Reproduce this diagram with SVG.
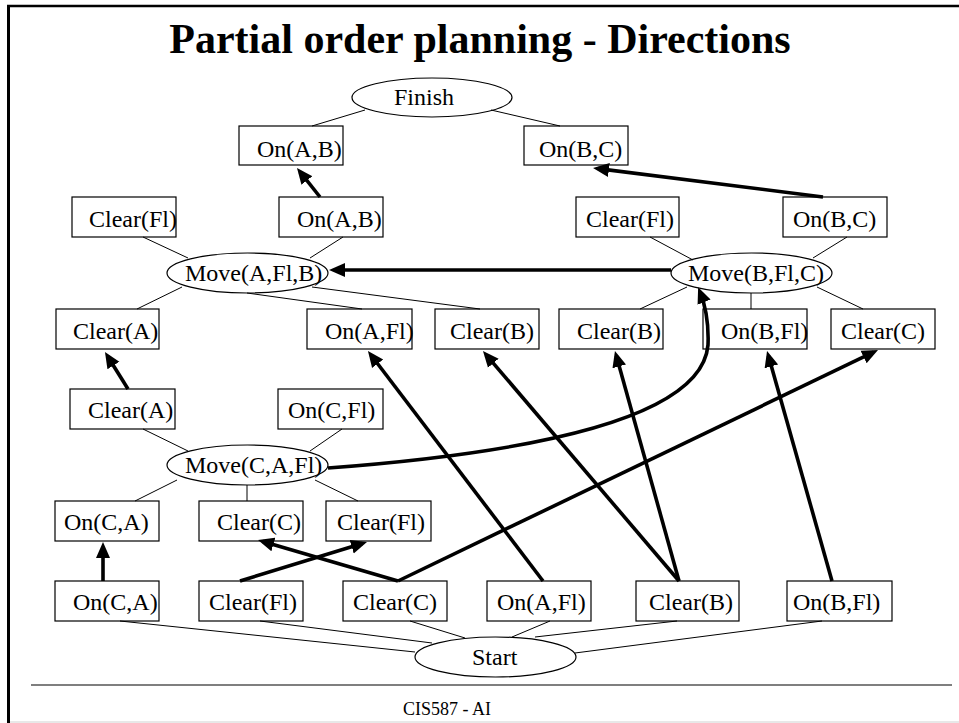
<svg xmlns="http://www.w3.org/2000/svg" width="959" height="723" viewBox="0 0 959 723">
<style>
  .box{fill:#fff;stroke:#000;stroke-width:1.2}
  .ell{fill:#fff;stroke:#000;stroke-width:1.2}
  .t{font-family:"Liberation Serif","Times New Roman",serif;font-size:24px;fill:#000}
  .thin{stroke:#000;stroke-width:1;fill:none}
  .arr{stroke:#000;stroke-width:3.6;fill:none;marker-end:url(#ah)}
</style>
<defs>
  <marker id="ah" markerUnits="userSpaceOnUse" viewBox="0 -8 18 16" markerWidth="18" markerHeight="16" refX="11" refY="0" orient="auto">
    <path d="M0,-7 L16,0 L0,7 Z" fill="#000"/>
  </marker>
</defs>
<rect width="959" height="723" fill="#fff"/>
<!-- frame -->
<line x1="7" y1="6" x2="959" y2="6" stroke="#000" stroke-width="2.5"/>
<line x1="8.5" y1="5" x2="8.5" y2="723" stroke="#000" stroke-width="3"/>
<line x1="10" y1="722" x2="959" y2="722" stroke="#e0e0e0" stroke-width="1.5"/>
<line x1="31" y1="685" x2="952" y2="685" stroke="#000" stroke-width="1.2"/>
<text x="480" y="53" text-anchor="middle" font-family="Liberation Serif, Times New Roman, serif" font-weight="bold" font-size="42">Partial order planning - Directions</text>
<text x="447" y="715" text-anchor="middle" font-family="Liberation Serif, Times New Roman, serif" font-size="18">CIS587 - AI</text>

<g id="finish"><ellipse class="ell" cx="432" cy="97.5" rx="80" ry="19.5"/><text class="t" x="394" y="105">Finish</text></g>
<g id="onAB_goal"><rect class="box" x="239" y="126" width="104" height="39"/><text class="t" x="257" y="157">On(A,B)</text></g>
<g id="onBC_goal"><rect class="box" x="524" y="126" width="104" height="39"/><text class="t" x="539" y="157">On(B,C)</text></g>

<g id="clearFl_mAB"><rect class="box" x="72" y="197" width="104" height="40"/><text class="t" x="89" y="227">Clear(Fl)</text></g>
<g id="onAB_mAB"><rect class="box" x="279" y="197" width="104" height="40"/><text class="t" x="297" y="227">On(A,B)</text></g>
<g id="clearFl_mBC"><rect class="box" x="576" y="197" width="103" height="40"/><text class="t" x="586" y="227">Clear(Fl)</text></g>
<g id="onBC_mBC"><rect class="box" x="783" y="197" width="104" height="40"/><text class="t" x="793" y="227">On(B,C)</text></g>

<g id="moveAFlB"><ellipse class="ell" cx="247.5" cy="273" rx="80.5" ry="20"/><text class="t" x="185" y="281">Move(A,Fl,B)</text></g>
<g id="moveBFlC"><ellipse class="ell" cx="751.5" cy="273" rx="80.5" ry="20"/><text class="t" x="688" y="281">Move(B,Fl,C)</text></g>

<g id="clearA_pre"><rect class="box" x="56" y="309" width="103" height="40"/><text class="t" x="73" y="339">Clear(A)</text></g>
<g id="onAFl_pre"><rect class="box" x="307" y="309" width="105" height="40"/><text class="t" x="325" y="339">On(A,Fl)</text></g>
<g id="clearB_preA"><rect class="box" x="435" y="309" width="104" height="40"/><text class="t" x="450" y="339">Clear(B)</text></g>
<g id="clearB_preB"><rect class="box" x="559" y="309" width="104" height="40"/><text class="t" x="577" y="339">Clear(B)</text></g>
<g id="onBFl_pre"><rect class="box" x="703" y="309" width="104" height="40"/><text class="t" x="721" y="339">On(B,Fl)</text></g>
<g id="clearC_pre"><rect class="box" x="831" y="309" width="104" height="40"/><text class="t" x="841" y="339">Clear(C)</text></g>

<g id="clearA_eff"><rect class="box" x="70" y="389" width="105" height="40"/><text class="t" x="88" y="418">Clear(A)</text></g>
<g id="onCFl_eff"><rect class="box" x="278" y="389" width="105" height="40"/><text class="t" x="288" y="418">On(C,Fl)</text></g>

<g id="moveCAFl"><ellipse class="ell" cx="247.5" cy="465" rx="80.5" ry="20"/><text class="t" x="185" y="473">Move(C,A,Fl)</text></g>

<g id="onCA_pre"><rect class="box" x="55" y="501" width="104" height="40"/><text class="t" x="64" y="530">On(C,A)</text></g>
<g id="clearC_preC"><rect class="box" x="199" y="501" width="104" height="40"/><text class="t" x="217" y="530">Clear(C)</text></g>
<g id="clearFl_preC"><rect class="box" x="326" y="501" width="105" height="40"/><text class="t" x="337" y="530">Clear(Fl)</text></g>

<g id="onCA_start"><rect class="box" x="55" y="581" width="104" height="40"/><text class="t" x="73" y="610">On(C,A)</text></g>
<g id="clearFl_start"><rect class="box" x="199" y="581" width="104" height="40"/><text class="t" x="209" y="610">Clear(Fl)</text></g>
<g id="clearC_start"><rect class="box" x="343" y="581" width="104" height="40"/><text class="t" x="353" y="610">Clear(C)</text></g>
<g id="onAFl_start"><rect class="box" x="487" y="581" width="104" height="40"/><text class="t" x="497" y="610">On(A,Fl)</text></g>
<g id="clearB_start"><rect class="box" x="636" y="581" width="103" height="40"/><text class="t" x="649" y="610">Clear(B)</text></g>
<g id="onBFl_start"><rect class="box" x="787" y="581" width="105" height="40"/><text class="t" x="793" y="610">On(B,Fl)</text></g>

<g id="start"><ellipse class="ell" cx="495.5" cy="657" rx="80.5" ry="20"/><text class="t" x="472" y="665">Start</text></g>

<g id="connectors">
  <!-- thin structural lines -->
  <line class="thin" x1="312" y1="126" x2="365" y2="110"/>
  <line class="thin" x1="491" y1="110" x2="560" y2="126"/>
  <line class="thin" x1="143" y1="237" x2="188" y2="258"/>
  <line class="thin" x1="343" y1="237" x2="310" y2="258"/>
  <line class="thin" x1="182" y1="287" x2="137" y2="309"/>
  <line class="thin" x1="247" y1="293" x2="362" y2="309"/>
  <line class="thin" x1="312" y1="287" x2="480" y2="309"/>
  <line class="thin" x1="650" y1="237" x2="693" y2="260"/>
  <line class="thin" x1="847" y1="237" x2="813" y2="258"/>
  <line class="thin" x1="687" y1="287" x2="640" y2="309"/>
  <line class="thin" x1="751" y1="293" x2="751" y2="309"/>
  <line class="thin" x1="817" y1="287" x2="863" y2="309"/>
  <line class="thin" x1="143" y1="429" x2="188" y2="451"/>
  <line class="thin" x1="342" y1="429" x2="310" y2="451"/>
  <line class="thin" x1="177" y1="480" x2="135" y2="501"/>
  <line class="thin" x1="247" y1="485" x2="247" y2="501"/>
  <line class="thin" x1="315" y1="480" x2="358" y2="501"/>
  <line class="thin" x1="120" y1="621" x2="415" y2="652"/>
  <line class="thin" x1="260" y1="621" x2="432" y2="643"/>
  <line class="thin" x1="410" y1="621" x2="465" y2="638"/>
  <line class="thin" x1="550" y1="621" x2="512" y2="637"/>
  <line class="thin" x1="677" y1="621" x2="535" y2="637"/>
  <line class="thin" x1="822" y1="621" x2="575" y2="653"/>
  <!-- causal / ordering arrows -->
  <line class="arr" x1="320" y1="197" x2="300.1" y2="171.9"/>
  <line class="arr" x1="823" y1="197" x2="598" y2="168.6"/>
  <line class="arr" x1="671" y1="270" x2="334" y2="270"/>
  <path class="arr" d="M328,468 Q700,440 708,345 C709,320 704,302 700,292"/>
  <line class="arr" x1="128" y1="389" x2="107.6" y2="356.2"/>
  <line class="arr" x1="103" y1="581" x2="103" y2="547"/>
  <line class="arr" x1="240" y1="581" x2="362.2" y2="543.5"/>
  <line class="arr" x1="398" y1="581" x2="262.8" y2="541.4"/>
  <line class="arr" x1="398" y1="581" x2="873.5" y2="352.2"/>
  <line class="arr" x1="543" y1="581" x2="371" y2="355"/>
  <line class="arr" x1="679" y1="581" x2="486.2" y2="354.8"/>
  <line class="arr" x1="679" y1="581" x2="616.3" y2="355.8"/>
  <line class="arr" x1="832" y1="581" x2="768.4" y2="355.8"/>
</g>
</svg>
